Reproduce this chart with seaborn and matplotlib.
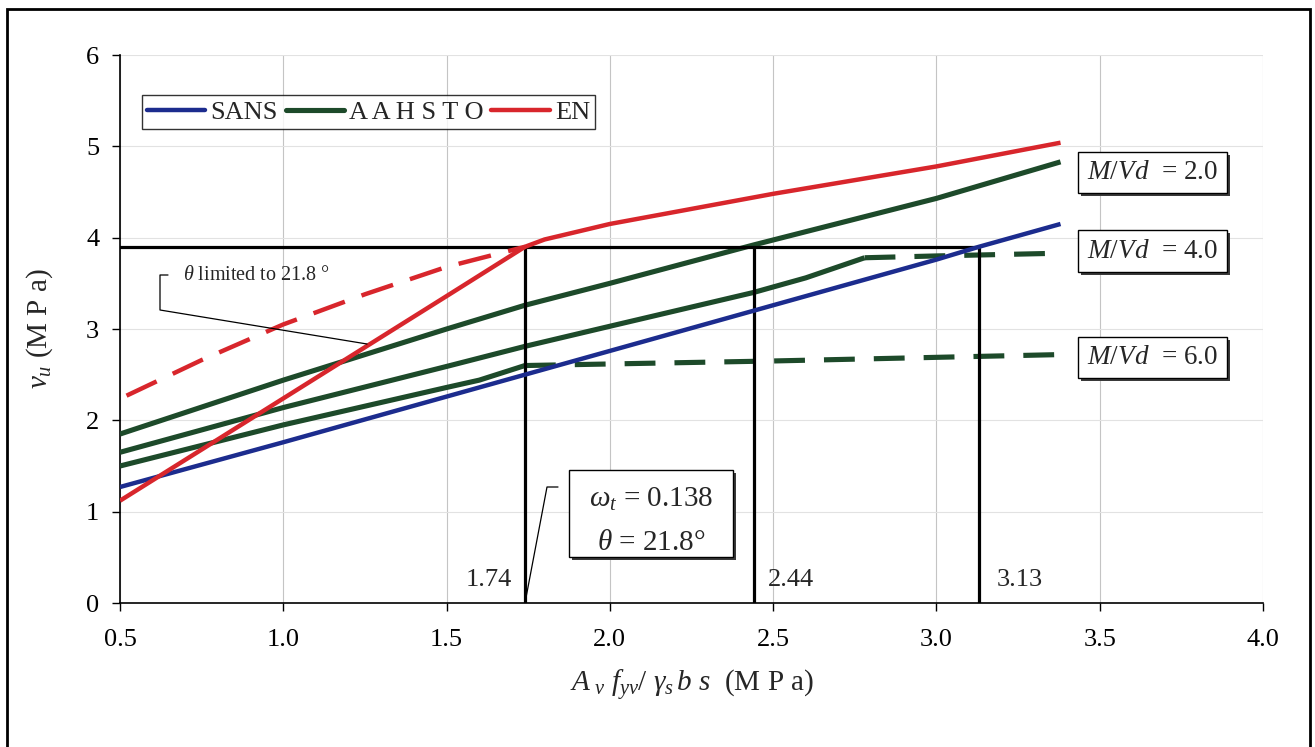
import matplotlib
matplotlib.use("Agg")
import matplotlib.pyplot as plt
from matplotlib.patches import Rectangle
from matplotlib.lines import Line2D
import seaborn as sns
import numpy as np

# ---------------- data ----------------
sans_x = [0.5, 1.0, 1.5, 1.74, 2.0, 2.5, 3.0, 3.13, 3.38]
sans_y = [1.27, 1.76, 2.26, 2.50, 2.76, 3.26, 3.76, 3.90, 4.15]

en_x = [0.5, 1.0, 1.5, 1.74, 1.8, 2.0, 2.5, 3.0, 3.38]
en_y = [1.12, 2.24, 3.36, 3.90, 3.98, 4.15, 4.48, 4.78, 5.04]
en_unlim_x = [0.52, 0.75, 1.0, 1.25, 1.5, 1.74]
en_unlim_y = [2.27, 2.66, 3.05, 3.38, 3.68, 3.90]

aash2_x = [0.5, 1.0, 1.5, 1.74, 2.0, 2.44, 3.0, 3.38]
aash2_y = [1.85, 2.44, 3.00, 3.26, 3.50, 3.92, 4.43, 4.83]
aash4_x = [0.5, 1.0, 1.5, 1.74, 2.0, 2.44, 2.6, 2.78]
aash4_y = [1.65, 2.14, 2.59, 2.81, 3.03, 3.40, 3.56, 3.78]
aash4_cap_x = [2.78, 3.0, 3.38]
aash4_cap_y = [3.78, 3.80, 3.83]
aash6_x = [0.5, 1.0, 1.5, 1.6, 1.74]
aash6_y = [1.50, 1.95, 2.36, 2.44, 2.60]
aash6_cap_x = [1.74, 2.5, 3.38]
aash6_cap_y = [2.60, 2.65, 2.72]

limit_x = [1.74, 2.44, 3.13]
limit_y = 3.9

legend_labels = ["SANS", "A A H S T O", "EN"]
mvd_labels = ["2.0", "4.0", "6.0"]

x_ticks = [0.5, 1.0, 1.5, 2.0, 2.5, 3.0, 3.5, 4.0]
y_ticks = [0, 1, 2, 3, 4, 5, 6]

# ---------------- style ----------------
sns.set_theme(style="white")
plt.rcParams["font.family"] = ["Liberation Serif", "DejaVu Serif"]
plt.rcParams["mathtext.fontset"] = "custom"
plt.rcParams["mathtext.rm"] = "Liberation Serif"
plt.rcParams["mathtext.it"] = "Liberation Serif:italic"
plt.rcParams["mathtext.bf"] = "Liberation Serif:bold"

BLUE = "#1c2c8e"
GREEN = "#1d4a2a"
RED = "#d8262c"
LW_B, LW_G, LW_R = 3.2, 3.7, 3.2

W, H = 1315, 747
fig = plt.figure(figsize=(W / 100, H / 100), dpi=100)
L, R, B, T = 120, 1263, 603, 55
ax = fig.add_axes([L / W, 1 - B / H, (R - L) / W, (B - T) / H])

ax.set_xlim(0.5, 4.0)
ax.set_ylim(0, 6)

def line(x, y, color, lw, z, dashes=None):
    sns.lineplot(x=x, y=y, ax=ax, color=color, linewidth=lw, zorder=z,
                 estimator=None, sort=False, legend=False)
    ln = ax.lines[-1]
    ln.set_solid_capstyle("butt")
    if dashes is not None:
        ln.set_dashes(dashes)
        ln.set_dash_capstyle("butt")
    return ln

# limit lines (black)
for xv in limit_x:
    ax.plot([xv, xv], [0, limit_y], color="black", lw=2.3, zorder=3.5)
ax.plot([0.5, limit_x[-1]], [limit_y, limit_y], color="black", lw=2.3, zorder=3.5)

# AASHTO
line(aash2_x, aash2_y, GREEN, LW_G, 3)
line(aash4_x, aash4_y, GREEN, LW_G, 3)
line(aash4_cap_x, aash4_cap_y, GREEN, LW_G, 3, dashes=(6, 3.7))
line(aash6_x, aash6_y, GREEN, LW_G, 3)
line(aash6_cap_x, aash6_cap_y, GREEN, LW_G, 3, dashes=(6, 3.7))
# SANS
line(sans_x, sans_y, BLUE, LW_B, 4)
# EN
line(en_unlim_x, en_unlim_y, RED, LW_R, 4, dashes=(7.5, 4))
line(en_x, en_y, RED, LW_R, 5)

# ---------------- axes ----------------
ax.set_xticks(x_ticks)
ax.set_xticklabels([f"{v:.1f}" for v in x_ticks])
ax.set_yticks(y_ticks)
ax.set_yticklabels([str(v) for v in y_ticks])
ax.tick_params(axis="both", which="both", bottom=True, left=True, direction="out",
               length=6, width=1, color="black", labelsize=19, labelcolor="black")
ax.tick_params(axis="x", pad=13)
ax.tick_params(axis="y", pad=9)
ax.grid(True, axis="x", color="#c4c4c4", lw=0.8, zorder=0)
ax.grid(True, axis="y", color="#e2e2e2", lw=0.8, zorder=0)
for s in ["top", "right"]:
    ax.spines[s].set_visible(False)
for s in ["left", "bottom"]:
    ax.spines[s].set_color("black")
    ax.spines[s].set_linewidth(1.2)
ax.set_axisbelow(True)

ax.set_xlabel(r"$A_{\ v}\ f_{yv}/\ \gamma_s\,b\ s$  (M P a)", fontsize=21, labelpad=12)
ax.set_ylabel(r"$v_u$ (M P a)", fontsize=21, labelpad=22)

# ---------------- legend ----------------
handles = [Line2D([], [], color=BLUE, lw=LW_B),
           Line2D([], [], color=GREEN, lw=LW_G),
           Line2D([], [], color=RED, lw=LW_R)]
leg = ax.legend(handles, legend_labels, ncol=3, loc="upper left",
                bbox_to_anchor=(0.019, 0.927), borderaxespad=0, frameon=True,
                fancybox=False, edgecolor="black", fontsize=19, handlelength=2.2,
                handletextpad=0.2, columnspacing=0.3, borderpad=0.2)
leg.get_frame().set_linewidth(1.0)
leg.set_zorder(10)

# ---------------- annotations ----------------
def px2d(px, py):
    return 0.5 + (px - L) / (R - L) * 3.5, (B - py) / (B - T) * 6

def box(x0p, y0p, x1p, y1p):
    (x0, y1), (x1, y0) = px2d(x0p, y0p), px2d(x1p, y1p)
    sx0, sy1 = px2d(x0p + 3, y0p + 3)
    ax.add_patch(Rectangle((sx0, y0 - (y1 - sy1)), x1 - x0, y1 - y0,
                           fc="#3a3a3a", ec="none", zorder=8))
    ax.add_patch(Rectangle((x0, y0), x1 - x0, y1 - y0, fc="white", ec="black",
                           lw=1.0, zorder=9))

# omega / theta box
box(569, 470, 733, 557)
cx, _ = px2d(651, 0)
ax.text(cx, px2d(0, 499)[1], r"$\omega_t$ = 0.138", ha="center", va="center",
        fontsize=21, zorder=11)
ax.text(cx, px2d(0, 543)[1], r"$\theta$ = 21.8°", ha="center", va="center",
        fontsize=21, zorder=11)
pts = [px2d(525, 603), px2d(547, 487), px2d(558, 487)]
ax.plot([p[0] for p in pts], [p[1] for p in pts], color="black", lw=0.9, zorder=6)

# theta limited note
pts = [px2d(168, 275), px2d(160, 275), px2d(160, 310), px2d(367, 344)]
ax.plot([p[0] for p in pts], [p[1] for p in pts], color="black", lw=0.9, zorder=6)
tx, ty = px2d(183, 276)
ax.text(tx, ty, r"$\theta$ limited to 21.8 °", ha="left", va="center", fontsize=14.5, zorder=11)

# limit value labels
ly = px2d(0, 580)[1]
ax.text(limit_x[0] - 0.04, ly, f"{limit_x[0]:.2f}", ha="right", va="center", fontsize=19, zorder=11)
ax.text(limit_x[1] + 0.045, ly, f"{limit_x[1]:.2f}", ha="left", va="center", fontsize=19, zorder=11)
ax.text(limit_x[2] + 0.055, ly, f"{limit_x[2]:.2f}", ha="left", va="center", fontsize=19, zorder=11)

# M/Vd boxes
for lab, (y0p, y1p) in zip(mvd_labels, [(152, 193), (230, 272), (337, 378)]):
    box(1078, y0p, 1227, y1p)
    mx, my = px2d(1153, (y0p + y1p) / 2)
    ax.text(mx, my, r"$M/Vd$  = " + lab, ha="center", va="center", fontsize=19.5, zorder=11)

# outer frame
fig.patches.append(Rectangle((7 / W, -0.05), (1310 - 7) / W, 1 - 9 / H + 0.05,
                             transform=fig.transFigure, fill=False, ec="black", lw=2.0))

fig.savefig("out.png", dpi=100)
